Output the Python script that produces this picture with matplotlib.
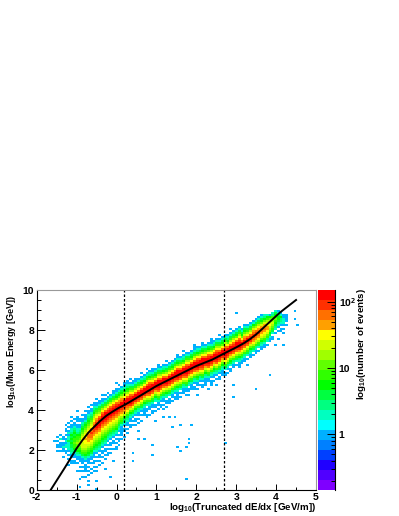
import numpy as np
import matplotlib
matplotlib.use('Agg')
import matplotlib.pyplot as plt
from matplotlib.colors import ListedColormap, BoundaryNorm
from matplotlib.ticker import MultipleLocator, FixedLocator, NullFormatter

plt.rcParams['font.family'] = ['Liberation Sans', 'DejaVu Sans']
plt.rcParams['font.weight'] = 'bold'
plt.rcParams['axes.unicode_minus'] = False
plt.rcParams['text.hinting'] = 'no_autohint'
plt.rcParams['mathtext.fontset'] = 'custom'
plt.rcParams['mathtext.rm'] = 'Liberation Sans:bold'
plt.rcParams['mathtext.bf'] = 'Liberation Sans:bold'

# histogram, one entry per x bin starting at first_col
# band codes: base 36 digit = colour band of the palette, '.' = empty bin
first_col = 6
col_center = [24, 22, 22, 21, 22, 23, 23, 23, 23, 23, 24, 25, 26, 27, 29, 30, 32, 34, 35, 36,
              37, 38, 39, 40, 41, 42, 43, 43, 44, 45, 46, 47, 48, 49, 49, 50, 51, 51, 52, 53,
              53, 54, 55, 56, 56, 57, 58, 58, 59, 60, 61, 61, 62, 62, 63, 63, 64, 65, 65, 66,
              67, 67, 68, 69, 70, 71, 71, 72, 73, 74, 75, 76, 77, 78, 79, 80, 81, 82, 83, 85,
              85, 85, 84, 85]
col_low = ["", "5.5", "5.5", "5..55", "55.7", "5..5.5.5777", "55.5578899", "55.5578abb",
           "5...5.5578abcc", "5.5..55579abcd", "5..5.5.55579bcdeee", "5..5555.578abcdeeff",
           "5.5.5.55579abcdefgg", "5.5..5.5579abcdefgh", "5.5.55.55579abcdefgh",
           "5.5..5.5.5789abcdefgh", "5.5.55.5789abcdefghi", "5..5.55.5789abcdefghi",
           "5.5.55.5789abcdefghi", "55.5.5.5789bcdefghi", "5.5.55.5789bcdefghi",
           "5..55.5789bcdefghi", "55.5.5.578abcdefghi", "5.55.5.5789bcdeghi",
           "5.5.5.579bcdfghi", "5..55.5789bdfghi", "5.5.55789bdfghi", "5..5578acegi",
           "5.5.579bdfhi", "5.55.578acegi", "5.5.5578bdfhi", "5..5.579bdfhi", "5.5578acegi",
           "5.55.79bdfhi", "5..5578bdfhi", "55.5579bdfhi", "5.55.78acegi", "5.5579bdfhi",
           "55.578bdfhi", "5.5579bdfhi", "5.55.78acegi", "555.79bdfhi", "5.5578bdfhi",
           "55.579bdfhi", "5.5578acegi", "5.5.79bdfhi", "55578bdfhi", "5.5579bdfhi",
           "5.55.78acegi", "5579bdfhi", "55.578bdfhi", "5.5579acegi", "5.578bdfhi",
           "55.579bdfhi", "5.5578acegi", "5579bdfhi", "55.578bdfhi", "5.5579acegi",
           "5.578bdfhi", "55.579bdfhi", "5578acegi", "55.79bdfhi", "5.578bdfhi", "55.79acegi",
           "5578bdfhi", "5.79bdfhi", "5.578acegi", "5579bdfhi", "5578bdfhi", "5.79bdfhi",
           "5578acegi", "5.79bdfgh", "5578bdegh", "5.79bdfgh", "5578acefg", "5579bdefg",
           "5.78bcefg", "5579acde", "55.79bcd", "5.789ab", "5.5789", "55.578", "5.5.57", "5.5"]
col_high = ["5", "5.5.5", "55.7.5", "755.55", "7575.5.55.5", "7977575.5.5", "a9a9a87755.5.5", "cbba9a98755.5",
            "dcbba87755.5.5", "edcba98755.55", "ffedcba98755.5", "gffedcba97555.5",
            "hhgfedcba98755.5", "hihgfedcb98755.5", "iiihgfedca98755", "ijjihgfecb9755.5",
            "jjjihfdcb9755", "jjjihfdb9755.5", "jjjjhfdb975", "jjjihfdb975.5", "jjjihfdb975",
            "jjjihfdb9755", "jjjihfca9755", "jjjhgeca975.5", "jjjhgeca975", "jjjhfeca8755",
            "jjjhfdba875", "jjjihfdb975.5", "jjjhfdb9755", "jjjhfdb975", "jjjhfdb975",
            "jjjhfca975.5", "jjjhfca875", "jjjhfdb975", "jjjihfca875", "jjjhfdb975",
            "jjjhfca975", "jjjjhfdb9755", "jjjhfdb975", "jjjhfca875", "jjjhfdb975.5",
            "jjjhfdb975", "jjjhfca975", "jjjhfdb975", "jjjjhfca9755", "jjjhfdb975", "jjjhfca875",
            "jjjihfdb975", "jjjhfdb975", "jjjhfca975", "jjjhfdb975.5", "jjjihfca875", "jjjhfdb975",
            "jjjjhfca975", "jjjhfdb975", "jjjihfca975", "jjjhfdb9755", "jjjhfca875", "jjjihfdb975",
            "jjjhfdb975.5", "jjjhfca975", "jjjihfdb975", "jjjhfca875", "jjjhfdb975", "jjihfdb975",
            "jjjhfca975", "jjjihfdb975", "jjhfca975", "jjhgeca975", "jjhfdb975", "jihfdb975",
            "iihgeca75", "iihfdb975", "ihgfdb975", "hhgeca975", "hggeca87", "gfedba7", "fedca5",
            "edcb87", "cba97", "aa975", "8a75", "7755", "555"]

# isolated single events
stray_x = [1.88, 1.59, 1.38, 1.17, 1.32, 1.47, 0.96, 0.71, 0.9, 0.4, 0.4, 0.57, 1.53, 1.8, 1.8, 1.76,
           1.59, 1.72, -0.5, -0.5, -0.9, -0.9, -0.7, -0.68, -0.17, -0.3, -0.1, 0.9, 0.88, 0.0, 0.0,
           -0.3, -0.46, -1.0, -1.0, 3.0, 4.49, 4.56, 4.45, 4.18, 3.97, 4.05, 3.83, 3.5, 2.93, 2.93,
           2.72, 3.3, 3.26,
           # jagged rim of the band
           0.3, 0.45, 0.62, 0.8, 1.05, 1.25, 1.45, 1.7, 1.95, 2.15, 2.4, 2.6, 2.85, 3.05, 3.2,
           0.1, 0.35, 0.5, 0.7, 0.85, 1.1, 1.3, 1.55, 1.9, 2.05, 2.25, 2.35, 2.5, 2.62, 2.8, 3.1,
           0.15, 0.55, 0.75, 1.0, 1.2, 2.0, 2.3, 2.55]
stray_y = [3.25, 3.25, 3.13, 3.67, 3.67, 3.67, 3.42, 2.58, 1.75, 1.45, 1.83, 2.5, 2.17, 2.5, 2.33, 2.13,
           1.92, 0.55, 0.47, 0.03, 0.13, 0.55, 0.47, 0.25, 0.67, 1.0, 1.42, 2.2, 6.03, 5.33, 5.0,
           4.7, 4.33, 3.92, 3.58, 8.87, 8.95, 8.25, 8.6, 7.25, 7.25, 7.53, 5.75, 5.05, 5.23, 4.63,
           2.33, 6.53, 6.28,
           5.45, 5.6, 5.85, 6.0, 6.2, 6.4, 6.55, 6.9, 7.15, 7.35, 7.5, 7.75, 8.0, 8.2, 8.15,
           3.05, 3.3, 3.4, 3.85, 4.05, 4.2, 4.35, 4.65, 5.0, 5.1, 5.35, 5.2, 5.55, 5.7, 5.85, 6.2,
           2.9, 2.95, 3.65, 3.95, 4.1, 4.75, 5.0, 5.3]

# black fit line
curve_x = [-1.65, -1.3, -1.0, -0.85, -0.7, -0.55, -0.41, -0.25, -0.09, 0.05, 0.2, 0.6, 1.0, 1.5, 2.0,
           2.4, 2.7, 3.0, 3.2, 3.35, 3.5, 3.65, 3.8, 4.1, 4.5]
curve_y = [0.0, 1.1, 2.08, 2.5, 2.88, 3.18, 3.45, 3.72, 3.93, 4.1, 4.25, 4.72, 5.2, 5.7, 6.2,
           6.52, 6.83, 7.13, 7.35, 7.55, 7.78, 8.05, 8.33, 8.88, 9.5]

cut_x = [0.2, 2.7]

palette = ['#7f00ff', '#5000ff', '#2000ff', '#0040ff', '#0080ff', '#00b0ff', '#00ffff', '#00ffc0',
           '#00ff80', '#00ff40', '#00ff00', '#30ff00', '#60ff00', '#a0ff00', '#d0ff00', '#ffff00',
           '#ffa000', '#ff7000', '#ff3000', '#ff0000']
z_min, z_max = 0.145, 150.0

# bins
x_edges = np.linspace(-2, 5, 101)
y_edges = np.linspace(0, 10, 101)
bounds = np.geomspace(z_min, z_max, len(palette) + 1)
centers = np.sqrt(bounds[:-1] * bounds[1:])

counts = np.full((100, 100), np.nan)
for sx, sy in zip(stray_x, stray_y):
    counts[int(sy / 0.1), int((sx + 2) / 0.07)] = centers[5]
for k in range(len(col_center)):
    col = first_col + k
    row = col_center[k] - len(col_low[k])
    for ch in col_low[k] + col_high[k]:
        if ch != '.' and 0 <= row < 100:
            counts[row, col] = centers[int(ch, 36)]
        row += 1

cmap = ListedColormap(palette)
norm = BoundaryNorm(bounds, len(palette))

W, H = 399, 516
fig = plt.figure(figsize=(W / 100, H / 100), dpi=100)
ax = fig.add_axes([36.7 / W, 26 / H, 279.3 / W, 200 / H])
ax.pcolormesh(x_edges, y_edges, counts, cmap=cmap, norm=norm, linewidth=0)
ax.plot(curve_x, curve_y, color='black', lw=1.4)
for xc in cut_x:
    ax.axvline(xc, color='black', lw=0.9, ls=(0, (2, 1.6)))

ax.set_xlim(-2, 5)
ax.set_ylim(0, 10)
ax.xaxis.set_major_locator(MultipleLocator(1))
ax.xaxis.set_minor_locator(MultipleLocator(0.5))
ax.yaxis.set_major_locator(MultipleLocator(2))
ax.yaxis.set_minor_locator(MultipleLocator(0.5))
ax.tick_params(axis='x', which='major', direction='in', length=4.5, width=0.7, labelsize=7.5, pad=2)
ax.tick_params(axis='x', which='minor', direction='in', length=2.5, width=0.7)
ax.tick_params(axis='y', which='major', direction='in', length=6, width=0.7, labelsize=7.5, pad=2)
ax.tick_params(axis='y', which='minor', direction='in', length=3, width=0.7)
ax.spines['top'].set_color('#999999')
ax.spines['right'].set_color('#999999')

fig.text(316 / W, 1 - 507 / H, r'log$_{\mathbf{10}}$(Truncated dE/dx [GeV/m])', fontsize=7,
         ha='right', va='center')
fig.text(12 / W, 1 - 351 / H, r'log$_{\mathbf{10}}$(Muon Energy [GeV])', fontsize=6.6,
         rotation=90, ha='center', va='center')

# palette axis
cax = fig.add_axes([317.5 / W, 26 / H, 17 / W, 200 / H])
cax.pcolormesh([0, 1], bounds, centers[:, None], cmap=cmap, norm=norm)
cax.set_yscale('log')
cax.set_ylim(z_min, z_max)
cax.set_xlim(0, 1)
cax.set_xticks([])
for s in ['top', 'left', 'bottom']:
    cax.spines[s].set_visible(False)
cax.yaxis.tick_right()
cax.yaxis.set_major_locator(FixedLocator([1, 10, 100]))
cax.yaxis.set_minor_locator(FixedLocator([0.2, 0.3, 0.4, 0.5, 0.6, 0.7, 0.8, 0.9, 2, 3, 4, 5, 6, 7, 8, 9,
                                          20, 30, 40, 50, 60, 70, 80, 90]))
cax.yaxis.set_minor_formatter(NullFormatter())
cax.set_yticklabels(['1', '10', r'10$^{\mathbf{2}}$'])
cax.tick_params(axis='y', which='major', direction='in', length=6, width=0.7, labelsize=7.5, pad=3)
cax.tick_params(axis='y', which='minor', direction='in', length=3, width=0.7)
fig.text(362 / W, 1 - 344 / H, r'log$_{\mathbf{10}}$(number of events)', fontsize=7,
         rotation=90, ha='center', va='center')

fig.savefig('out.png', dpi=100)
